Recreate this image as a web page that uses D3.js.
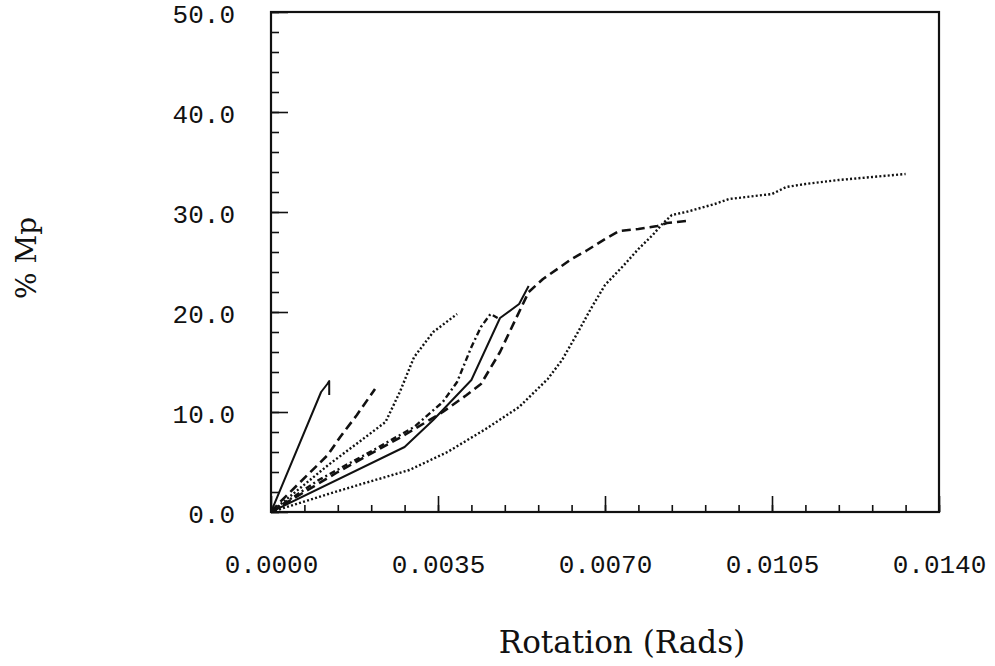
<!DOCTYPE html>
<html>
<head>
<meta charset="utf-8">
<script src="https://cdn.jsdelivr.net/npm/d3@7"></script>
<style>
  html, body { margin: 0; padding: 0; background: #fff; }
  svg { display: block; }
</style>
</head>
<body>
<svg id="chart" width="995" height="666"></svg>
<script>
// ---- data (rotation in rads, moment as % Mp) ----
const xTickValues = [0, 0.0035, 0.0070, 0.0105, 0.0140];
const yTickValues = [0, 10, 20, 30, 40, 50];
const xMinorStep = 0.0007;
const yMinorStep = 2;

const solidShort = [[0,0],[0.00105,12.0],[0.00118,12.8],[0.00122,13.1],[0.00122,11.7]];
const dashedShort = [[0,0],[0.00019,1.0],[0.00119,5.7],[0.00145,7.5],[0.0018,9.7],[0.00218,12.3]];
const dottedShort = [[0,0],[0.0012,4.7],[0.0019,7.2],[0.0024,9.0],[0.0027,12.0],[0.0030,15.5],[0.0034,18.0],[0.0039,19.8]];
const dashDot = [[0,0],[0.0010,3.2],[0.0020,5.8],[0.0030,8.5],[0.0036,11.0],[0.0039,13.0],[0.0042,16.5],[0.0044,18.5],[0.0046,19.8],[0.00475,19.4]];
const solidLong = [[0,0],[0.0028,6.5],[0.0034,9.2],[0.0042,13.2],[0.0048,19.4],[0.0052,20.8],[0.0054,22.6]];
const dashedLong = [[0,0],[0.0014,4.0],[0.0028,7.7],[0.0036,10.0],[0.0041,11.7],[0.0044,12.8],[0.0048,16.0],[0.0054,22.0],[0.0057,23.3],[0.0063,25.3],[0.0066,26.1],[0.0070,27.3],[0.0073,28.1],[0.0077,28.3],[0.0081,28.6],[0.0083,28.9],[0.0087,29.1]];
const dottedLong = [[0,0],[0.0012,1.8],[0.0019,2.8],[0.0029,4.2],[0.0037,6.0],[0.0045,8.3],[0.0052,10.5],[0.0058,13.3],[0.0061,15.2],[0.0064,17.7],[0.0067,20.3],[0.0070,22.7],[0.0074,24.7],[0.0077,26.3],[0.0080,27.7],[0.0082,28.8],[0.0084,29.7],[0.0087,30.0],[0.0093,30.8],[0.0096,31.3],[0.0105,31.8],[0.0108,32.5],[0.0112,32.8],[0.0119,33.2],[0.0126,33.5],[0.0133,33.8]];

const xLabel = "Rotation (Rads)";
const yLabel = "% Mp";

// ---- layout ----
const svg = d3.select("#chart");
const padL = 271, padR = 939, padT = 12, padB = 512;

const x = d3.scaleLinear().domain([0, 0.014]).range([padL, padR]);
const y = d3.scaleLinear().domain([0, 50]).range([padB, padT]);

const ink = "#111";

// frame
svg.append("rect")
  .attr("x", padL).attr("y", padT)
  .attr("width", padR - padL).attr("height", padB - padT)
  .attr("fill", "none").attr("stroke", ink).attr("stroke-width", 2.2);

// x minor/major ticks (inward)
const xAllTicks = d3.range(0, 0.0140 + 1e-9, xMinorStep);
const xMinorAxis = d3.axisTop(x).tickValues(xAllTicks).tickSize(7).tickFormat("");
const gxm = svg.append("g").attr("transform", `translate(0,${padB})`).call(xMinorAxis);
const xMajorAxis = d3.axisTop(x).tickValues(xTickValues).tickSize(16).tickFormat("");
const gxM = svg.append("g").attr("transform", `translate(0,${padB})`).call(xMajorAxis);
[gxm, gxM].forEach(g => {
  g.select(".domain").remove();
  g.selectAll("line").attr("stroke", ink).attr("stroke-width", 1.6);
});

// x labels
const xLabAxis = d3.axisBottom(x).tickValues(xTickValues).tickSize(0).tickPadding(0)
  .tickFormat(d3.format(".4f"));
const gxl = svg.append("g").attr("transform", `translate(0,${padB})`).call(xLabAxis);
gxl.select(".domain").remove();
gxl.selectAll("text")
  .attr("y", 61).attr("dy", null)
  .attr("font-family", "'Liberation Mono', 'DejaVu Sans Mono', monospace")
  .attr("font-size", 26).attr("fill", ink);

// y minor/major ticks (inward)
const yAllTicks = d3.range(0, 50 + 1e-9, yMinorStep);
const yMinorAxis = d3.axisRight(y).tickValues(yAllTicks).tickSize(8).tickFormat("");
const gym = svg.append("g").attr("transform", `translate(${padL},0)`).call(yMinorAxis);
const yMajorAxis = d3.axisRight(y).tickValues(yTickValues).tickSize(17).tickFormat("");
const gyM = svg.append("g").attr("transform", `translate(${padL},0)`).call(yMajorAxis);
[gym, gyM].forEach(g => {
  g.select(".domain").remove();
  g.selectAll("line").attr("stroke", ink).attr("stroke-width", 1.6);
});

// y labels
const yLabAxis = d3.axisLeft(y).tickValues(yTickValues).tickSize(0).tickPadding(36)
  .tickFormat(d3.format(".1f"));
const gyl = svg.append("g").attr("transform", `translate(${padL},0)`).call(yLabAxis);
gyl.select(".domain").remove();
gyl.selectAll("text")
  .attr("dy", "0.42em")
  .attr("font-family", "'Liberation Mono', 'DejaVu Sans Mono', monospace")
  .attr("font-size", 26).attr("fill", ink);

// axis titles
svg.append("text")
  .attr("x", 622).attr("y", 653)
  .attr("text-anchor", "middle")
  .attr("font-family", "'DejaVu Serif', serif")
  .attr("font-size", 31).attr("fill", ink)
  .text(xLabel);

svg.append("text")
  .attr("transform", "translate(36,258) rotate(-90)")
  .attr("text-anchor", "middle")
  .attr("font-family", "'DejaVu Serif', serif")
  .attr("font-size", 28).attr("fill", ink)
  .text(yLabel);

// curves
const line = d3.line().x(d => x(d[0])).y(d => y(d[1]));
const series = [
  { data: dottedLong,  dash: "2,2.2",   w: 2.4 },
  { data: dashedLong,  dash: "9,5",     w: 2.6 },
  { data: solidLong,   dash: null,      w: 2.0 },
  { data: dashDot,     dash: "6,3,2,3", w: 2.4 },
  { data: dottedShort, dash: "2,2.2",   w: 2.4 },
  { data: dashedShort, dash: "9,5",     w: 2.6 },
  { data: solidShort,  dash: null,      w: 2.0 }
];
svg.append("g").selectAll("path").data(series).join("path")
  .attr("d", s => line(s.data))
  .attr("fill", "none")
  .attr("stroke", ink)
  .attr("stroke-width", s => s.w)
  .attr("stroke-dasharray", s => s.dash)
  .attr("stroke-linejoin", "round");
</script>
</body>
</html>
